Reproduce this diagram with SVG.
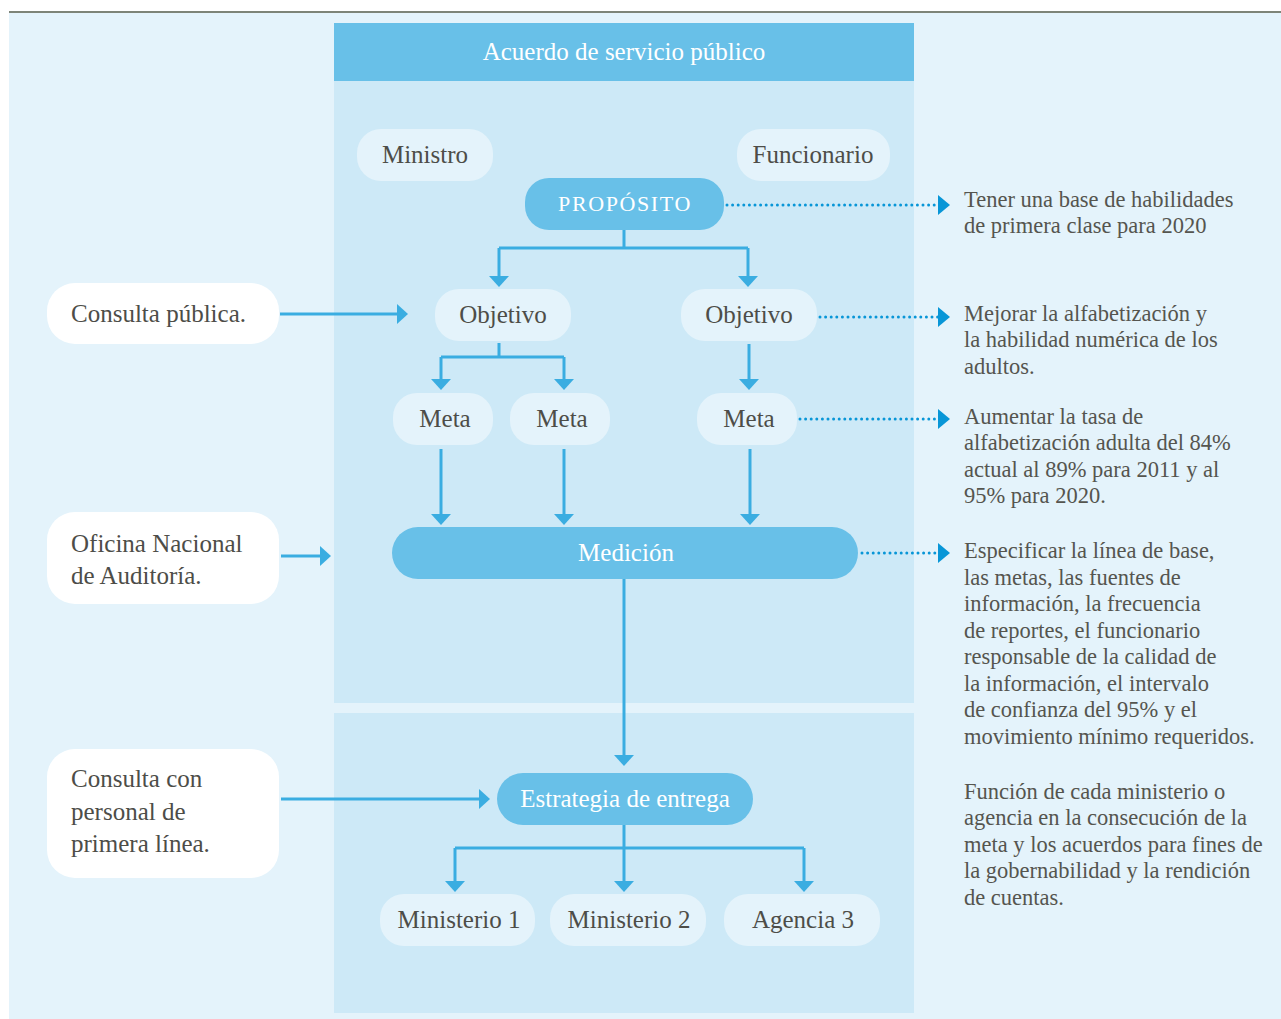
<svg xmlns="http://www.w3.org/2000/svg" width="1281" height="1019" viewBox="0 0 1281 1019">
<defs>
<style>
.bg{fill:#E4F3FB}
.panel{fill:#CDE9F7}
.dark{fill:#68C0E8}
.light{fill:#E4F3FB}
.white{fill:#FFFFFF}
.t{font-family:"Liberation Serif","Times New Roman",serif;font-size:25px;fill:#4d4d48}
.tc{text-anchor:middle}
.tw{fill:#FFFFFF}
.r{font-family:"Liberation Serif","Times New Roman",serif;font-size:22.5px;fill:#55554f}
.c{fill:none;stroke:#3AADE1;stroke-width:3}
.d{fill:none;stroke:#0896D7;stroke-width:3;stroke-dasharray:0 5.6;stroke-linecap:round}
</style>
<marker id="ah" viewBox="0 0 11 20" refX="7" refY="10" markerWidth="11" markerHeight="20" markerUnits="userSpaceOnUse" orient="auto">
<path d="M0,0 L11,10 L0,20 z" fill="#3AADE1"/>
</marker>
<marker id="dh" viewBox="0 0 12 20" refX="0" refY="10" markerWidth="12" markerHeight="20" markerUnits="userSpaceOnUse" orient="auto">
<path d="M0,0 L12,10 L0,20 z" fill="#0896D7"/>
</marker>
</defs>
<rect x="0" y="0" width="1281" height="1019" fill="#FFFFFF"/>
<rect class="bg" x="9" y="13" width="1272" height="1006"/>
<line x1="9" y1="12" x2="1281" y2="12" stroke="#7d8478" stroke-width="2"/>
<g id="panels">
<rect class="panel" x="334" y="81" width="580" height="622"/>
<rect class="panel" x="334" y="713" width="580" height="300"/>
</g>
<g id="header">
<rect class="dark" x="334" y="23" width="580" height="58"/>
<text class="t tc tw" x="624" y="60">Acuerdo de servicio público</text>
</g>
<g id="connectors">
<path class="c" d="M624,230 V248 M499,248 H748" />
<path class="c" d="M499,248 V283" marker-end="url(#ah)"/>
<path class="c" d="M748,248 V283" marker-end="url(#ah)"/>
<path class="c" d="M280,314 H404" marker-end="url(#ah)"/>
<path class="c" d="M499,343 V357 M441,357 H564"/>
<path class="c" d="M441,357 V386" marker-end="url(#ah)"/>
<path class="c" d="M564,357 V386" marker-end="url(#ah)"/>
<path class="c" d="M749,344 V386" marker-end="url(#ah)"/>
<path class="c" d="M441,449 V521" marker-end="url(#ah)"/>
<path class="c" d="M564,449 V521" marker-end="url(#ah)"/>
<path class="c" d="M750,449 V521" marker-end="url(#ah)"/>
<path class="c" d="M281,556 H327" marker-end="url(#ah)"/>
<path class="c" d="M624,579 V762" marker-end="url(#ah)"/>
<path class="c" d="M281,799 H486" marker-end="url(#ah)"/>
<path class="c" d="M624,825 V888" marker-end="url(#ah)"/>
<path class="c" d="M455,848 H804"/>
<path class="c" d="M455,848 V888" marker-end="url(#ah)"/>
<path class="c" d="M804,848 V888" marker-end="url(#ah)"/>
<path class="d" d="M727,205 H938" marker-end="url(#dh)"/>
<path class="d" d="M820,317 H938" marker-end="url(#dh)"/>
<path class="d" d="M800,419 H938" marker-end="url(#dh)"/>
<path class="d" d="M862,553 H938" marker-end="url(#dh)"/>
</g>
<g id="ministro"><rect class="light" x="357" y="129" width="136" height="52" rx="24"/><text class="t tc" x="425" y="163">Ministro</text></g>
<g id="funcionario"><rect class="light" x="737" y="129" width="153" height="52" rx="24"/><text class="t tc" x="813" y="163">Funcionario</text></g>
<g id="proposito"><rect class="dark" x="525" y="178" width="199" height="52" rx="24"/><text class="t tc tw" x="625" y="211" style="font-size:22px;letter-spacing:1.6px">PROPÓSITO</text></g>
<g id="objetivo1"><rect class="light" x="435" y="289" width="136" height="52" rx="24"/><text class="t tc" x="503" y="323">Objetivo</text></g>
<g id="objetivo2"><rect class="light" x="681" y="289" width="136" height="52" rx="24"/><text class="t tc" x="749" y="323">Objetivo</text></g>
<g id="meta1"><rect class="light" x="393" y="393" width="100" height="52" rx="24"/><text class="t tc" x="445" y="427">Meta</text></g>
<g id="meta2"><rect class="light" x="510" y="393" width="100" height="52" rx="24"/><text class="t tc" x="562" y="427">Meta</text></g>
<g id="meta3"><rect class="light" x="697" y="393" width="100" height="52" rx="24"/><text class="t tc" x="749" y="427">Meta</text></g>
<g id="medicion"><rect class="dark" x="392" y="527" width="466" height="52" rx="26"/><text class="t tc tw" x="626" y="561">Medición</text></g>
<g id="estrategia"><rect class="dark" x="497" y="773" width="256" height="52" rx="26"/><text class="t tc tw" x="625" y="807">Estrategia de entrega</text></g>
<g id="ministerio1"><rect class="light" x="380" y="894" width="155" height="52" rx="24"/><text class="t tc" x="459" y="928">Ministerio 1</text></g>
<g id="ministerio2"><rect class="light" x="550" y="894" width="156" height="52" rx="24"/><text class="t tc" x="629" y="928">Ministerio 2</text></g>
<g id="agencia3"><rect class="light" x="724" y="894" width="156" height="52" rx="24"/><text class="t tc" x="803" y="928">Agencia 3</text></g>
<g id="consulta-publica"><rect class="white" x="47" y="283" width="232" height="61" rx="28"/><text class="t" x="71" y="322">Consulta pública.</text></g>
<g id="oficina"><rect class="white" x="47" y="512" width="232" height="92" rx="28"/><text class="t" x="71" y="552">Oficina Nacional</text><text class="t" x="71" y="584">de Auditoría.</text></g>
<g id="consulta-personal"><rect class="white" x="47" y="749" width="232" height="129" rx="28"/><text class="t" x="71" y="787">Consulta con</text><text class="t" x="71" y="820">personal de</text><text class="t" x="71" y="852">primera línea.</text></g>
<g id="notes">
<text class="r" x="964" y="207">Tener una base de habilidades</text>
<text class="r" x="964" y="233">de primera clase para 2020</text>
<text class="r" x="964" y="321">Mejorar la alfabetización y</text>
<text class="r" x="964" y="347">la habilidad numérica de los</text>
<text class="r" x="964" y="374">adultos.</text>
<text class="r" x="964" y="424">Aumentar la tasa de</text>
<text class="r" x="964" y="450">alfabetización adulta del 84%</text>
<text class="r" x="964" y="477">actual al 89% para 2011 y al</text>
<text class="r" x="964" y="503">95% para 2020.</text>
<text class="r" x="964" y="558">Especificar la línea de base,</text>
<text class="r" x="964" y="585">las metas, las fuentes de</text>
<text class="r" x="964" y="611">información, la frecuencia</text>
<text class="r" x="964" y="638">de reportes, el funcionario</text>
<text class="r" x="964" y="664">responsable de la calidad de</text>
<text class="r" x="964" y="691">la información, el intervalo</text>
<text class="r" x="964" y="717">de confianza del 95% y el</text>
<text class="r" x="964" y="744">movimiento mínimo requeridos.</text>
<text class="r" x="964" y="799">Función de cada ministerio o</text>
<text class="r" x="964" y="825">agencia en la consecución de la</text>
<text class="r" x="964" y="852">meta y los acuerdos para fines de</text>
<text class="r" x="964" y="878">la gobernabilidad y la rendición</text>
<text class="r" x="964" y="905">de cuentas.</text>
</g>
</svg>
